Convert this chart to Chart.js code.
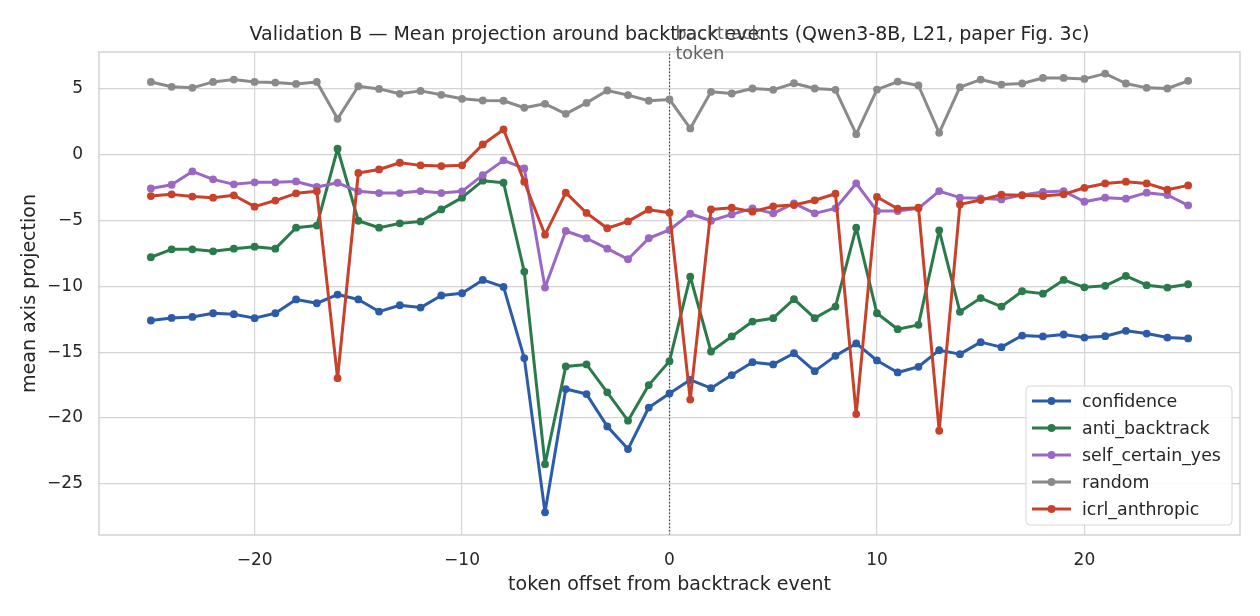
<!DOCTYPE html>
<html>
<head>
<meta charset="utf-8">
<script src="https://cdn.jsdelivr.net/npm/chart.js@4.4.1/dist/chart.umd.min.js"></script>
<style>
  html, body { margin: 0; padding: 0; background: #fff; }
  #wrap { width: 1260px; height: 616px; position: relative; }
</style>
</head>
<body>
<div id="wrap"><canvas id="chart" width="1260" height="616"></canvas></div>
<script>
// token offsets -25..25
const offsets = [-25,-24,-23,-22,-21,-20,-19,-18,-17,-16,-15,-14,-13,-12,-11,-10,-9,-8,-7,-6,-5,-4,-3,-2,-1,0,1,2,3,4,5,6,7,8,9,10,11,12,13,14,15,16,17,18,19,20,21,22,23,24,25];

const confidence = [-12.6,-12.4,-12.33,-12.05,-12.12,-12.42,-12.05,-11.0,-11.29,-10.63,-11.0,-11.92,-11.44,-11.62,-10.7,-10.53,-9.52,-10.05,-15.45,-27.15,-17.8,-18.18,-20.63,-22.35,-19.2,-18.13,-17.1,-17.73,-16.74,-15.76,-15.93,-15.08,-16.44,-15.28,-14.34,-15.63,-16.54,-16.11,-14.85,-15.15,-14.24,-14.62,-13.74,-13.81,-13.66,-13.89,-13.79,-13.38,-13.59,-13.89,-13.96];
const antiBacktrack = [-7.8,-7.2,-7.2,-7.35,-7.15,-7.0,-7.15,-5.56,-5.4,0.43,-5.03,-5.56,-5.23,-5.08,-4.17,-3.28,-1.99,-2.15,-8.89,-23.5,-16.08,-15.93,-18.05,-20.2,-17.5,-15.68,-9.27,-14.95,-13.81,-12.68,-12.42,-10.98,-12.42,-11.54,-5.56,-12.05,-13.26,-12.93,-5.76,-11.94,-10.9,-11.54,-10.38,-10.56,-9.52,-10.08,-9.97,-9.22,-9.92,-10.1,-9.85];
const selfCertainYes = [-2.58,-2.3,-1.29,-1.89,-2.27,-2.12,-2.12,-2.05,-2.47,-2.15,-2.8,-2.93,-2.93,-2.78,-2.93,-2.8,-1.57,-0.45,-1.06,-10.1,-5.81,-6.36,-7.15,-7.95,-6.36,-5.73,-4.5,-5.03,-4.55,-4.09,-4.47,-3.71,-4.47,-4.09,-2.2,-4.29,-4.29,-4.09,-2.78,-3.28,-3.33,-3.41,-3.08,-2.85,-2.78,-3.59,-3.28,-3.36,-2.9,-3.08,-3.86];
const random = [5.5,5.13,5.05,5.5,5.68,5.5,5.45,5.35,5.5,2.7,5.17,4.97,4.6,4.82,4.52,4.22,4.09,4.07,3.54,3.84,3.08,3.91,4.85,4.5,4.07,4.17,1.97,4.75,4.62,5.0,4.9,5.4,5.0,4.9,1.54,4.92,5.53,5.23,1.64,5.1,5.68,5.3,5.38,5.8,5.8,5.73,6.13,5.38,5.05,5.0,5.58];
const icrlAnthropic = [-3.16,-3.03,-3.2,-3.28,-3.1,-3.96,-3.5,-2.95,-2.8,-16.97,-1.41,-1.14,-0.63,-0.83,-0.88,-0.83,0.76,1.89,-2.07,-6.09,-2.9,-4.44,-5.6,-5.08,-4.19,-4.42,-18.6,-4.17,-4.04,-4.34,-3.94,-3.84,-3.48,-2.98,-19.7,-3.23,-4.12,-4.04,-20.96,-3.79,-3.46,-3.06,-3.1,-3.16,-3.03,-2.53,-2.2,-2.07,-2.2,-2.68,-2.35];

const seriesNames = ["confidence", "anti_backtrack", "self_certain_yes", "random", "icrl_anthropic"];
const seriesValues = [confidence, antiBacktrack, selfCertainYes, random, icrlAnthropic];
const seriesColors = ["#2c5ca8", "#2a7a4c", "#9a68c2", "#8a8a8a", "#c8412b"];

const xTicks = [-20, -10, 0, 10, 20];
const yTicks = [-25, -20, -15, -10, -5, 0, 5];

const FONT = "'DejaVu Sans', sans-serif";
const TXT = "#262626";
const fmt = v => String(v).replace("-", "\u2212");

const datasets = seriesNames.map((name, i) => ({
  label: name,
  data: offsets.map((x, j) => ({ x: x, y: seriesValues[i][j] })),
  borderColor: seriesColors[i],
  backgroundColor: seriesColors[i],
  borderWidth: 3,
  borderJoinStyle: "round",
  borderCapStyle: "round",
  pointRadius: 3.9,
  pointHoverRadius: 3.9,
  pointBorderWidth: 0,
  tension: 0,
  order: seriesNames.length - i
}));

// frame, dotted marker line, title, annotation, legend
const decorations = {
  id: "decorations",
  beforeDatasetsDraw(chart) {
    const { ctx, chartArea: a, scales } = chart;
    const x0 = scales.x.getPixelForValue(0);
    ctx.save();
    ctx.strokeStyle = "#444";
    ctx.lineWidth = 1.2;
    ctx.setLineDash([1.5, 2]);
    ctx.beginPath();
    ctx.moveTo(x0, a.bottom);
    ctx.lineTo(x0, a.top);
    ctx.stroke();
    ctx.restore();
  },
  afterDraw(chart) {
    const { ctx, chartArea: a, scales } = chart;
    ctx.save();
    // frame
    ctx.strokeStyle = "#cccccc";
    ctx.lineWidth = 1.3;
    ctx.strokeRect(a.left, a.top, a.right - a.left, a.bottom - a.top);

    // title
    ctx.fillStyle = TXT;
    ctx.font = "19px " + FONT;
    ctx.textAlign = "center";
    ctx.textBaseline = "middle";
    ctx.fillText("Validation B \u2014 Mean projection around backtrack events (Qwen3-8B, L21, paper Fig. 3c)", (a.left + a.right) / 2, 35);

    // annotation at the event
    const x0 = scales.x.getPixelForValue(0);
    ctx.fillStyle = "rgba(70,70,70,0.85)";
    ctx.font = "17.5px " + FONT;
    ctx.textAlign = "left";
    ctx.fillText("backtrack", x0 + 6, 34);
    ctx.fillText("token", x0 + 6, 54);

    // legend
    const lx = 1026, ly = 386, lw = 206, lh = 139;
    ctx.fillStyle = "rgba(255,255,255,0.85)";
    ctx.strokeStyle = "#d6d6d6";
    ctx.lineWidth = 1;
    ctx.beginPath();
    ctx.roundRect(lx, ly, lw, lh, 4);
    ctx.fill();
    ctx.stroke();
    chart.data.datasets.forEach((ds, i) => {
      const yy = ly + 15 + i * 27;
      ctx.strokeStyle = ds.borderColor;
      ctx.lineWidth = 3;
      ctx.beginPath();
      ctx.moveTo(lx + 6, yy);
      ctx.lineTo(lx + 45, yy);
      ctx.stroke();
      ctx.fillStyle = ds.borderColor;
      ctx.beginPath();
      ctx.arc(lx + 25.5, yy, 3.9, 0, Math.PI * 2);
      ctx.fill();
      ctx.fillStyle = TXT;
      ctx.font = "17.4px " + FONT;
      ctx.textAlign = "left";
      ctx.textBaseline = "middle";
      ctx.fillText(ds.label, lx + 56, yy + 1);
    });
    ctx.restore();
  }
};

new Chart(document.getElementById("chart"), {
  type: "line",
  data: { datasets: datasets },
  plugins: [decorations],
  options: {
    responsive: false,
    animation: false,
    devicePixelRatio: 1,
    layout: { padding: { left: 0, right: 20, top: 52, bottom: 20 } },
    plugins: { legend: { display: false }, tooltip: { enabled: false }, title: { display: false } },
    scales: {
      x: {
        type: "linear",
        min: -27.5,
        max: 27.5,
        afterBuildTicks: s => { s.ticks = xTicks.map(v => ({ value: v })); },
        afterFit: s => { s.height = 61; },
        grid: { color: "#d4d4d4", lineWidth: 1.2, drawTicks: false },
        border: { display: false },
        ticks: { color: TXT, font: { family: FONT, size: 17 }, padding: 15, callback: v => fmt(v), maxRotation: 0 },
        title: { display: true, text: "token offset from backtrack event", color: TXT, font: { family: FONT, size: 19 }, padding: { top: 0, bottom: 0 } }
      },
      y: {
        type: "linear",
        min: -28.87,
        max: 7.77,
        afterBuildTicks: s => { s.ticks = yTicks.map(v => ({ value: v })); },
        afterFit: s => { s.width = 99; },
        grid: { color: "#d4d4d4", lineWidth: 1.2, drawTicks: false },
        border: { display: false },
        ticks: { color: TXT, font: { family: FONT, size: 17 }, padding: 16, callback: v => fmt(v) },
        title: { display: true, text: "mean axis projection", color: TXT, font: { family: FONT, size: 19 }, padding: { top: 19, bottom: 0 } }
      }
    }
  }
});
</script>
</body>
</html>
